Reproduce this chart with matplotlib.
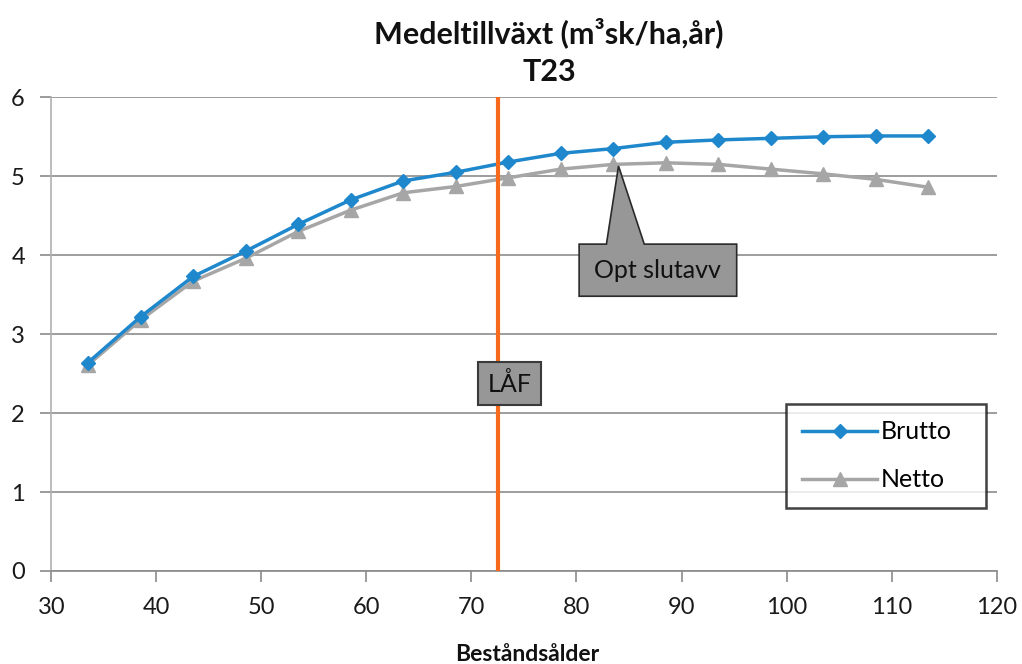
import matplotlib
matplotlib.use("Agg")
import matplotlib.pyplot as plt
from matplotlib.patches import Polygon
from matplotlib.lines import Line2D

# Stand age (years) and mean annual increment (m3sk/ha,år)
alder = [33.5, 38.5, 43.5, 48.5, 53.5, 58.5, 63.5, 68.5, 73.5, 78.5,
         83.5, 88.5, 93.5, 98.5, 103.5, 108.5, 113.5]
brutto = [2.64, 3.22, 3.73, 4.05, 4.39, 4.70, 4.94, 5.05, 5.18, 5.29,
          5.35, 5.43, 5.46, 5.48, 5.50, 5.51, 5.51]
netto = [2.61, 3.18, 3.67, 3.96, 4.30, 4.57, 4.79, 4.87, 4.98, 5.09,
         5.15, 5.17, 5.15, 5.09, 5.03, 4.96, 4.86]
laf_alder = 72.5
opt_index = 10

x_ticks = [30, 40, 50, 60, 70, 80, 90, 100, 110, 120]
y_ticks = [0, 1, 2, 3, 4, 5, 6]

BLUE = "#1f88cc"
GREY = "#a6a6a6"
ORANGE = "#f76a1c"
BOXFILL = "#979797"

plt.rcParams["font.family"] = ["Lato", "DejaVu Sans"]

fig = plt.figure(figsize=(10.22, 6.64), dpi=100)
ax = fig.add_axes([0.0502, 0.1401, 0.9250, 0.7134])

ax.set_xlim(30, 120)
ax.set_ylim(0, 6)
ax.set_xticks(x_ticks)
ax.set_yticks(y_ticks)
ax.tick_params(axis="both", direction="out", length=8, width=1.2,
               color="#8a8a8a", labelsize=17, labelcolor="#1a1a1a", pad=11)

for s in ("top", "right"):
    ax.spines[s].set_visible(False)
for s in ("left", "bottom"):
    ax.spines[s].set_color("#8a8a8a")
    ax.spines[s].set_linewidth(1.2)
ax.spines["left"].set_color("#b0b0b0")

ax.yaxis.grid(True, color="#8c8c8c", linewidth=1.2)
ax.set_axisbelow(True)

# Series
ax.plot(alder, netto, color=GREY, lw=2.5, marker="^", ms=10,
        markerfacecolor=GREY, markeredgecolor=GREY, zorder=3)
ax.plot(alder, brutto, color=BLUE, lw=2.5, marker="D", ms=7,
        markerfacecolor=BLUE, markeredgecolor=BLUE, zorder=4)

# LÅF marker line
ax.axvline(laf_alder, color=ORANGE, lw=3, zorder=5)
ax.text(laf_alder + 1.1, 2.37, "LÅF", ha="center", va="center", fontsize=18,
        color="#111111", zorder=6,
        bbox=dict(boxstyle="square,pad=0.38", facecolor=BOXFILL,
                  edgecolor="#3a3a3a", linewidth=1.5))

# Callout pointing at the optimal final felling
tx, ty = alder[opt_index] + 0.5, netto[opt_index] - 0.02
callout = [
    (tx, ty),
    (tx + 2.45, ty - 0.99),
    (tx + 11.25, ty - 0.99),
    (tx + 11.25, ty - 1.65),
    (tx - 3.75, ty - 1.65),
    (tx - 3.75, ty - 0.99),
    (tx - 1.15, ty - 0.99),
]
ax.add_patch(Polygon(callout, closed=True, facecolor=BOXFILL,
                     edgecolor="#2a2a2a", linewidth=1.2, zorder=6))
ax.text(tx + 3.75, ty - 1.32, "Opt slutavv", ha="center", va="center",
        fontsize=18, color="#111111", zorder=7)

# Legend
handles = [
    Line2D([], [], color=BLUE, lw=2.5, marker="D", ms=7),
    Line2D([], [], color=GREY, lw=2.5, marker="^", ms=10),
]
leg = ax.legend(handles, ["Brutto", "Netto"], loc="upper left",
                bbox_to_anchor=(0.777, 0.139, 0.212, 0.213),
                mode="expand", fontsize=18, frameon=True, fancybox=False,
                handlelength=3.0, handletextpad=0.15, labelspacing=1.0,
                borderpad=0.65, borderaxespad=0.0)
leg.get_frame().set_edgecolor("#111111")
leg.get_frame().set_linewidth(1.8)
leg.set_zorder(8)

fig.text(0.537, 0.951, "Medeltillväxt (m³sk/ha,år)", ha="center", va="center",
         fontsize=22, fontweight="bold", color="#111111")
fig.text(0.537, 0.891, "T23", ha="center", va="center",
         fontsize=22, fontweight="bold", color="#111111")
fig.text(0.516, 0.014, "Beståndsålder", ha="center", va="center",
         fontsize=16.5, fontweight="bold", color="#111111")

fig.savefig("out.png", dpi=100, facecolor="white")
